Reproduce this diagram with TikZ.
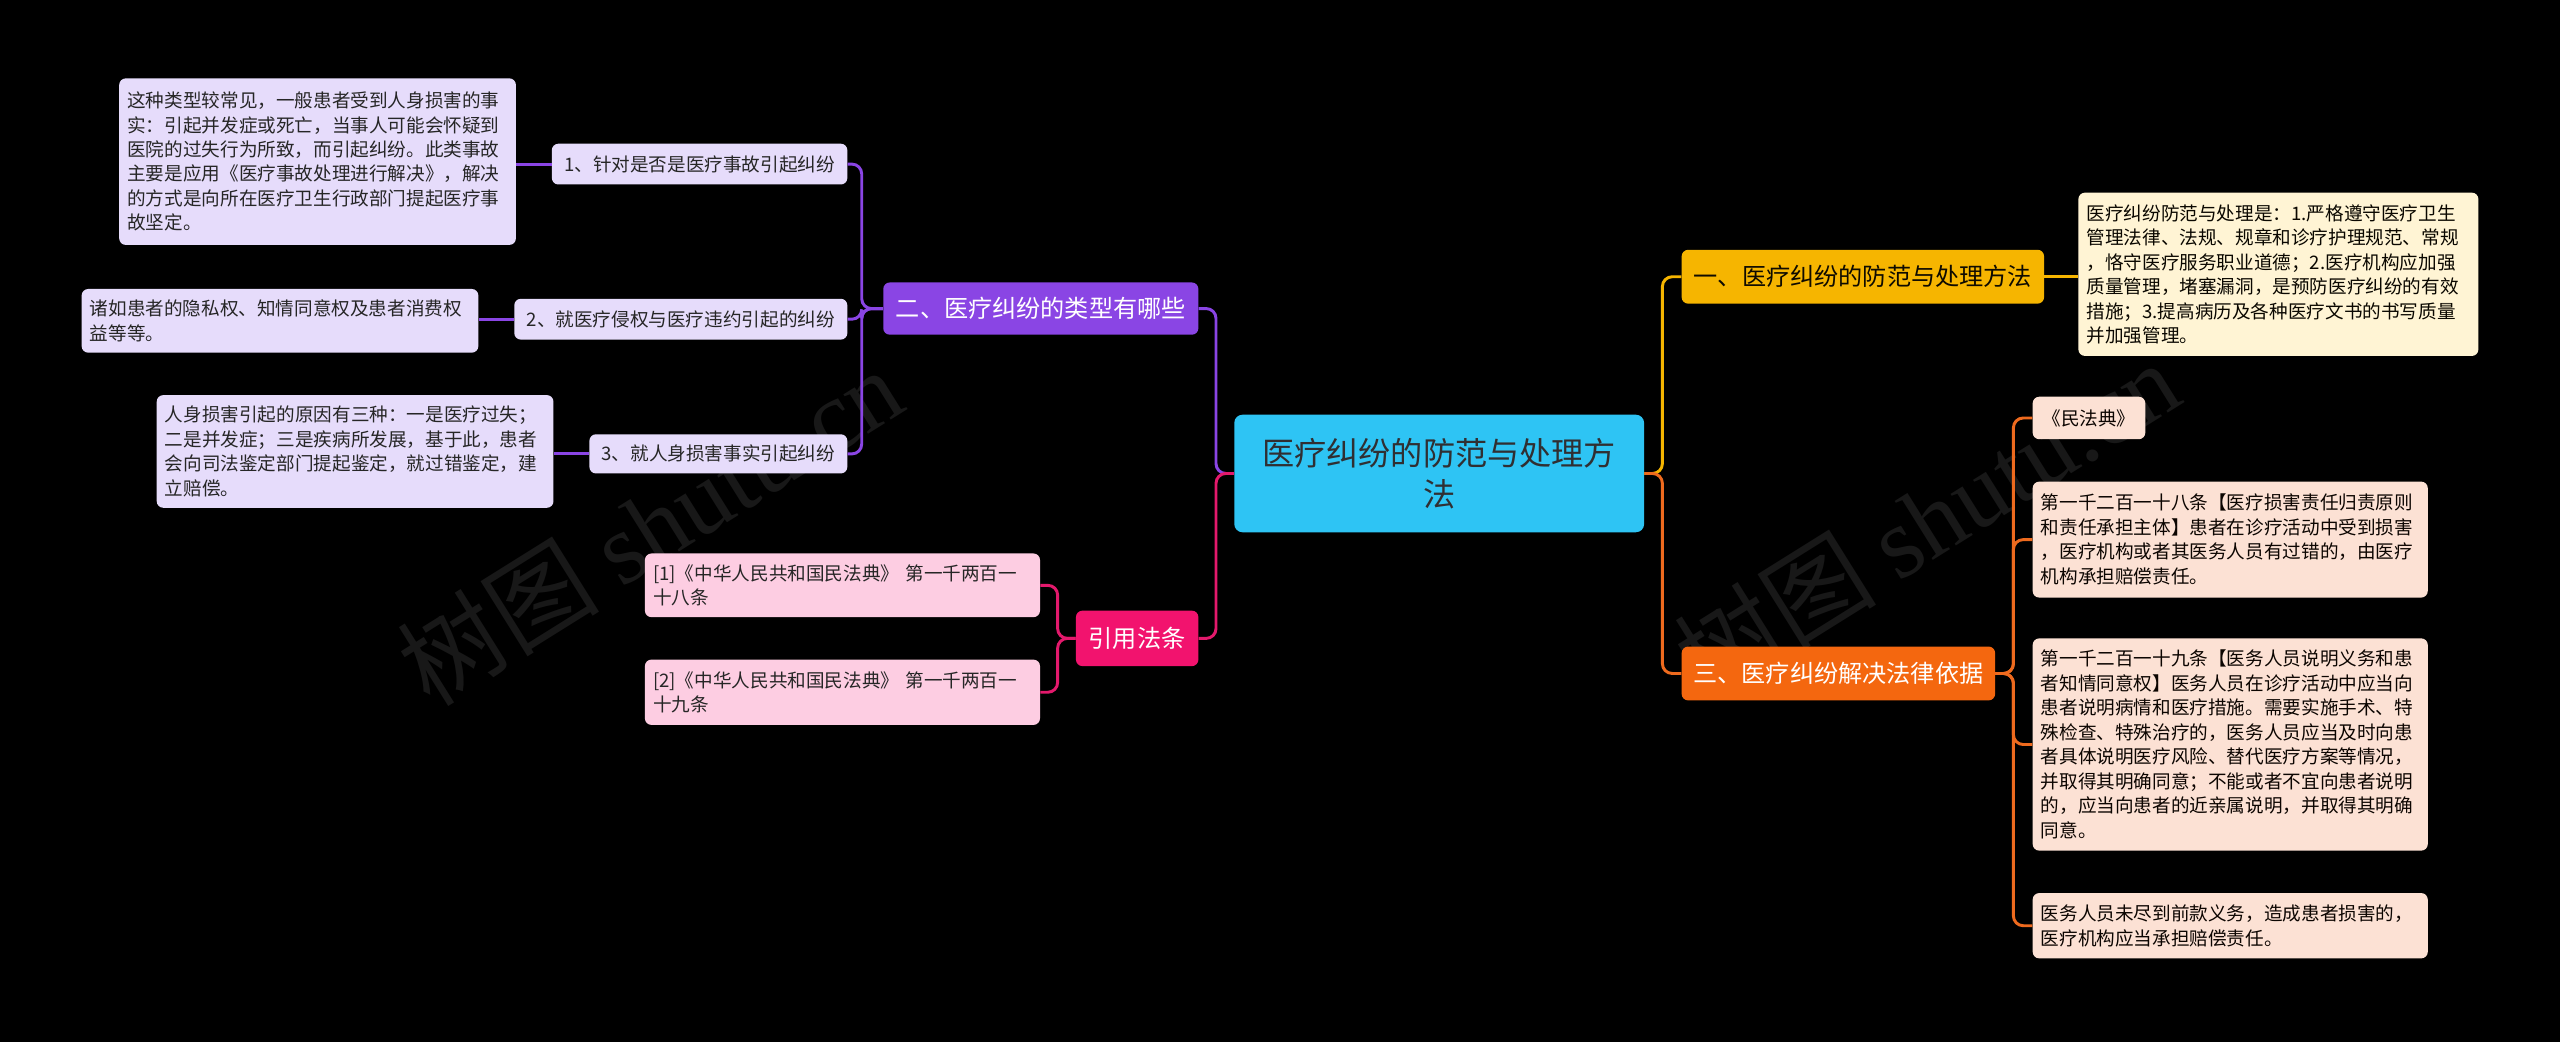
\documentclass[tikz,border=0pt]{standalone}
\usepackage{fontspec}
\setmainfont{Noto Sans CJK SC}
\newfontfamily\wmfont{Liberation Serif}
\begin{document}
\begin{tikzpicture}[x=1pt,y=-1pt]
\definecolor{cyanc}{HTML}{2EC4F4}
\definecolor{purc}{HTML}{8A45E4}
\definecolor{purl}{HTML}{E6DCFB}
\definecolor{pinkc}{HTML}{F2136E}
\definecolor{pinkl}{HTML}{FDCDE2}
\definecolor{pinkline}{HTML}{E3196C}
\definecolor{yelc}{HTML}{F6B500}
\definecolor{yell}{HTML}{FFF4D4}
\definecolor{orac}{HTML}{F4670F}
\definecolor{oral}{HTML}{FCE1D4}
\definecolor{oraline}{HTML}{EE6A1E}
\definecolor{wm}{HTML}{181818}
\tikzset{
  box/.style={rounded corners=4pt, inner xsep=5pt, inner ysep=2pt, anchor=center},
  smalltxt/.style={font=\fontsize{11.4}{15}\selectfont},
  bigtxt/.style={font=\fontsize{14.8}{18}\selectfont},
  conn/.style={line width=1.8pt, rounded corners=6pt},
  wmark/.style={rotate=32, text=wm, font=\fontsize{62}{62}\selectfont},
}
\path[fill=black] (0,0) rectangle (1568,638);
% watermarks
\node[wmark] (wm1) at (398,322) {树图 {\wmfont shutu.cn}};
\node[wmark] (wm2) at (1180,318) {树图 {\wmfont shutu.cn}};
% center
\node[box, fill=cyanc, text=black!80!cyan!40!black, minimum width=251pt, minimum height=72pt, align=center,
  font=\fontsize{19.7}{25}\selectfont, rounded corners=5pt] (C) at (881.5,290) {医疗纠纷的防范与处理方\\法};
% purple branch
\node[box, fill=purc, text=white, bigtxt, minimum width=193pt, minimum height=32pt] (P) at (637.5,189) {二、医疗纠纷的类型有哪些};
\node[box, fill=purl, text=black!85, smalltxt, minimum width=181pt, minimum height=25pt] (P1) at (428.5,100.5) {1、针对是否是医疗事故引起纠纷};
\node[box, fill=purl, text=black!85, smalltxt, minimum width=204pt, minimum height=25pt] (P2) at (417,195.5) {2、就医疗侵权与医疗违约引起的纠纷};
\node[box, fill=purl, text=black!85, smalltxt, minimum width=158pt, minimum height=24pt] (P3) at (440,278) {3、就人身损害事实引起纠纷};
\node[box, fill=purl, text=black!85, smalltxt, text width=233pt, align=left, minimum height=102pt] (PA) at (194.5,99) {这种类型较常见，一般患者受到人身损害的事\\实：引起并发症或死亡，当事人可能会怀疑到\\医院的过失行为所致，而引起纠纷。此类事故\\主要是应用《医疗事故处理进行解决》，解决\\的方式是向所在医疗卫生行政部门提起医疗事\\故坚定。};
\node[box, fill=purl, text=black!85, smalltxt, text width=233pt, align=left, minimum height=39pt] (PB) at (171.5,196.5) {诸如患者的隐私权、知情同意权及患者消费权\\益等等。};
\node[box, fill=purl, text=black!85, smalltxt, text width=233pt, align=left, minimum height=69pt] (PC) at (217.5,276.5) {人身损害引起的原因有三种：一是医疗过失；\\二是并发症；三是疾病所发展，基于此，患者\\会向司法鉴定部门提起鉴定，就过错鉴定，建\\立赔偿。};
% pink branch
\node[box, fill=pinkc, text=white, bigtxt, minimum width=75pt, minimum height=34pt] (R) at (696.5,391) {引用法条};
\node[box, fill=pinkl, text=black!85, smalltxt, text width=232pt, align=left, minimum height=39pt] (R1) at (516,358.5) {[1]《中华人民共和国民法典》 第一千两百一\\十八条};
\node[box, fill=pinkl, text=black!85, smalltxt, text width=232pt, align=left, minimum height=40pt] (R2) at (516,424) {[2]《中华人民共和国民法典》 第一千两百一\\十九条};
% yellow branch
\node[box, fill=yelc, text=black!80!yelc!30!black, bigtxt, minimum width=222pt, minimum height=33pt] (Y) at (1141,169.5) {一、医疗纠纷的防范与处理方法};
\node[box, fill=yell, text=black!80!yelc!20!black, smalltxt, text width=235pt, align=left, minimum height=100pt] (Y1) at (1395.5,168) {医疗纠纷防范与处理是：1.严格遵守医疗卫生\\管理法律、法规、规章和诊疗护理规范、常规\\，恪守医疗服务职业道德；2.医疗机构应加强\\质量管理，堵塞漏洞，是预防医疗纠纷的有效\\措施；3.提高病历及各种医疗文书的书写质量\\并加强管理。};
% orange branch
\node[box, fill=orac, text=white, bigtxt, minimum width=192pt, minimum height=33pt] (O) at (1126,412.5) {三、医疗纠纷解决法律依据};
\node[box, fill=oral, text=black!80!orac!25!black, smalltxt, minimum width=69pt, minimum height=26pt] (O1) at (1279.5,256) {《民法典》};
\node[box, fill=oral, text=black!80!orac!25!black, smalltxt, text width=232pt, align=left, minimum height=71pt] (O2) at (1366,330.5) {第一千二百一十八条【医疗损害责任归责原则\\和责任承担主体】患者在诊疗活动中受到损害\\，医疗机构或者其医务人员有过错的，由医疗\\机构承担赔偿责任。};
\node[box, fill=oral, text=black!80!orac!25!black, smalltxt, text width=232pt, align=left, minimum height=130pt] (O3) at (1366,456) {第一千二百一十九条【医务人员说明义务和患\\者知情同意权】医务人员在诊疗活动中应当向\\患者说明病情和医疗措施。需要实施手术、特\\殊检查、特殊治疗的，医务人员应当及时向患\\者具体说明医疗风险、替代医疗方案等情况，\\并取得其明确同意；不能或者不宜向患者说明\\的，应当向患者的近亲属说明，并取得其明确\\同意。};
\node[box, fill=oral, text=black!80!orac!25!black, smalltxt, text width=232pt, align=left, minimum height=40pt] (O4) at (1366,567) {医务人员未尽到前款义务，造成患者损害的，\\医疗机构应当承担赔偿责任。};
% connectors
\draw[conn, purc] (C.west) -- ++(-11,0) |- (P.east);
\draw[conn, pinkline] (C.west) -- ++(-11,0) |- (R.east);
\draw[conn, yelc] (C.east) -- ++(11,0) |- (Y.west);
\draw[conn, oraline] (C.east) -- ++(11,0) |- (O.west);
\draw[conn, purc] (P.west) -- ++(-13,0) |- (P1.east);
\draw[conn, purc] (P.west) -- ++(-13,0) |- (P2.east);
\draw[conn, purc] (P.west) -- ++(-13,0) |- (P3.east);
\draw[conn, purc] (P1.west) -- (P1.west -| PA.east);
\draw[conn, purc] (P2.west) -- (P2.west -| PB.east);
\draw[conn, purc] (P3.west) -- (P3.west -| PC.east);
\draw[conn, pinkline] (R.west) -- ++(-11,0) |- (R1.east);
\draw[conn, pinkline] (R.west) -- ++(-11,0) |- (R2.east);
\draw[conn, yelc] (Y.east) -- (Y.east -| Y1.west);
\draw[conn, oraline] (O.east) -- ++(11,0) |- (O1.west);
\draw[conn, oraline] (O.east) -- ++(11,0) |- (O2.west);
\draw[conn, oraline] (O.east) -- ++(11,0) |- (O3.west);
\draw[conn, oraline] (O.east) -- ++(11,0) |- (O4.west);
\end{tikzpicture}
\end{document}
